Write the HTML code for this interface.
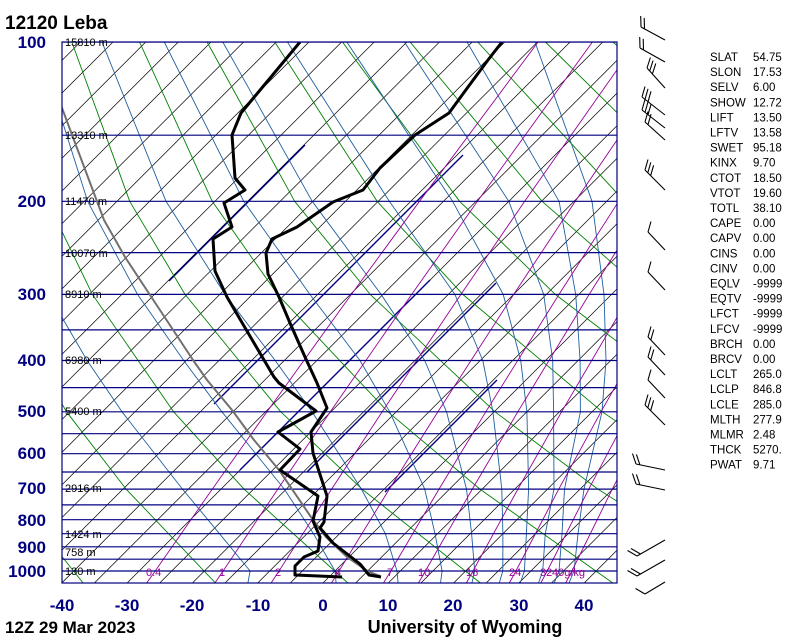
<!DOCTYPE html>
<html><head><meta charset="utf-8">
<style>
html,body{margin:0;padding:0;background:#fff;}
svg{display:block;}
text{font-family:"Liberation Sans",sans-serif;}
</style></head>
<body>
<svg xmlns="http://www.w3.org/2000/svg" width="800" height="640" viewBox="0 0 800 640">
<defs><clipPath id="c"><rect x="62" y="42" width="555" height="541"/></clipPath></defs>
<g clip-path="url(#c)" fill="none">
<!-- isotherms -->
<path stroke="#000" stroke-width="0.7" d="M-460.6 583l541 -541M-428 583l541 -541M-395.3 583l541 -541M-362.7 583l541 -541M-330 583l541 -541M-297.4 583l541 -541M-264.7 583l541 -541M-232.1 583l541 -541M-199.4 583l541 -541M-166.8 583l541 -541M-134.1 583l541 -541M-101.5 583l541 -541M-68.8 583l541 -541M-36.2 583l541 -541M-3.5 583l541 -541M29.1 583l541 -541M61.8 583l541 -541M94.4 583l541 -541M127.1 583l541 -541M159.7 583l541 -541M192.4 583l541 -541M225 583l541 -541M257.7 583l541 -541M290.3 583l541 -541M323 583l541 -541M355.6 583l541 -541M388.3 583l541 -541M420.9 583l541 -541M453.6 583l541 -541M486.2 583l541 -541M518.9 583l541 -541M551.5 583l541 -541M584.2 583l541 -541M616.8 583l541 -541"/>
<!-- navy segments -->
<path stroke="#000080" stroke-width="1.4" d="M305 145L169 281M463 155L214 404M430 280L240 470M496 283L307 472M497 380L385 492"/>
<!-- dry adiabats -->
<path stroke="#008000" stroke-width="0.9" stroke-linejoin="round" d="M83.1 583L8.1 489.1M215.5 583L126.1 489.1L66.5 411.8L-0.2 294.4M347.9 583L244 489.1L173.6 411.8L92.4 294.4L47.3 201.3L4.2 42M480.4 583L362 489.1L280.8 411.8L185 294.4L129.7 201.3L71.8 42M612.8 583L479.9 489.1L387.9 411.8L277.6 294.4L212.2 201.3L139.5 42M745.2 583L597.9 489.1L495 411.8L370.2 294.4L294.7 201.3L207.1 42M877.6 583L715.8 489.1L602.2 411.8L462.8 294.4L377.1 201.3L274.8 42M1010 583L833.8 489.1L709.3 411.8L555.3 294.4L459.6 201.3L342.4 42M1142.5 583L951.7 489.1L816.5 411.8L647.9 294.4L542.1 201.3L410.1 42M1069.7 489.1L923.6 411.8L740.5 294.4L624.5 201.3L477.7 42M1030.8 411.8L833.1 294.4L707 201.3L545.4 42M925.7 294.4L789.4 201.3L613 42"/>
<!-- moist adiabats -->
<path stroke="#1f5fa0" stroke-width="0.9" stroke-linejoin="round" d="M247.9 583L250.1 571L219.5 533.7L182.5 489.1L122 411.8L87.1 360.5L48.6 294.4M336.1 583L335 571L313.5 533.7L284.3 489.1L221.9 411.8L183.7 360.5L137.5 294.4L87.6 201.3L37.3 42M398.1 583L397 571L385.4 533.7L361.4 489.1L312 411.8L275.2 360.5L225 294.4L166 201.3L102 42M440.5 583L442.1 571L435 533.7L424.7 489.1L389.7 411.8L360 360.5L309.9 294.4L243.7 201.3L164.3 42M471.9 583L474.7 571L471.6 533.7L466.5 489.1L446.5 411.8L424.7 360.5L381.1 294.4L312.2 201.3L222.8 42M499.3 583L502.8 571L502.9 533.7L501.8 489.1L492.9 411.8L482.8 360.5L454.9 294.4L389.3 201.3L287.4 42M520.2 583L524.4 571L526.4 533.7L528.6 489.1L526.9 411.8L520.7 360.5L503.2 294.4L452.6 201.3L346.8 42M538.5 583L542.7 571L545.3 533.7L554 489.1L553.6 411.8L552.7 360.5L543.7 294.4L508.8 201.3L404.4 42M554.2 583L559 571L562 533.7L564.5 489.1L580.4 411.8L580.1 360.5L575.7 294.4L559.1 201.3L467 42M569 583L574 571L578 533.7L584 489.1L602 411.8L606 360.5L604 294.4L592 201.3L535 42"/>
<!-- mixing ratio -->
<path stroke="#990099" stroke-width="0.9" stroke-linejoin="round" d="M146.7 583L155.2 571L212.3 489.1L267 411.8L351.4 294.4L419.5 201.3L538.1 42M214.9 583L223.1 571L277.8 489.1L330.3 411.8L411.7 294.4L477.5 201.3L592.4 42M271.1 583L279 571L331.6 489.1L382.2 411.8L460.9 294.4L524.7 201.3L636.6 42M331.4 583L339 571L389.3 489.1L437.9 411.8L513.7 294.4L575.3 201.3L683.8 42M383.5 583L390.8 571L439 489.1L485.8 411.8L559 294.4L618.7 201.3M418.4 583L425.4 571L472.3 489.1L517.8 411.8L589.2 294.4L647.6 201.3M466.3 583L473 571L517.9 489.1L561.6 411.8L630.5 294.4M509.3 583L515.9 571L558.8 489.1L601 411.8L667.6 294.4M540.8 583L547.2 571L588.8 489.1L629.6 411.8M565.7 583L571.9 571L612.3 489.1L652.3 411.8"/>
<!-- isobars -->
<path stroke="#000080" stroke-width="1.2" d="M62 42H617M62 135.2H617M62 201.3H617M62 252.6H617M62 294.4H617M62 329.9H617M62 360.5H617M62 387.6H617M62 411.8H617M62 433.7H617M62 453.7H617M62 472H617M62 489.1H617M62 504.9H617M62 519.7H617M62 533.7H617M62 546.8H617M62 559.2H617M62 571H617"/>
<!-- soundings -->
<polyline stroke="#707070" stroke-width="2" stroke-linejoin="round" points="60,103 62,108 104,220 125,257 150,295 193,360 207,380 232,410 254,440 279,470 311,517 326,537 347,557 369,572 380,576"/>
<polyline stroke="#000" stroke-width="3" stroke-linejoin="round" points="502,42 488,60 468,87 449,113 415,135 380,168 363,190 333,202 297,227 272,239 266,253 268,274 279,297 290,323 305,357 317,383 327,408 311,432 313,453 327,496 324,522 320,528 333,543 360,564 369,575 381,577"/>
<polyline stroke="#000" stroke-width="3" stroke-linejoin="round" points="300,42 241,113 232,135 235,178 245,190 224,203 232,227 213,239 215,271 227,297 274,377 279,383 316,411 278,432 300,449 280,470 318,496 313,521 320,537 318,551 304,557 295,566 295,575 342,577"/>
</g>
<rect x="62" y="42" width="555" height="541" fill="none" stroke="#000080" stroke-width="1.2"/>
<g font-size="11" fill="#990099">
<text x="146" y="576">0.4</text><text x="219" y="576">1</text><text x="275" y="576">2</text>
<text x="335" y="576">4</text><text x="387" y="576">7</text><text x="418" y="576">10</text>
<text x="466" y="576">16</text><text x="509" y="576">24</text><text x="540" y="576">32</text>
<text x="552" y="576">40g/kg</text>
</g>
<!-- wind barbs -->
<path stroke="#000" stroke-width="1.1" fill="none" d="
M665 40L641 27M641 27l-0.3 -11M644.5 28.9l-0.3 -11
M665 62L640 48M640 48l-0.3 -11M643.5 49.9l-0.3 -11
M665 88L647 68M647 68l3.4 -10.5M649.7 71l3.4 -10.5M652.4 73.9l3.4 -10.5
M665 115L642 97M642 97l3 -10.5M645 99.4l3 -10.5M648 101.8l3 -10.5
M665 128L642 110M642 110l3 -10.5M645 112.4l3 -10.5M648 114.8l3 -10.5
M665 140L645 122M645 122l3 -10.5M648 124.7l3 -10.5
M665 190L645 170M645 170l3 -10.5M647.8 172.9l3 -10.5M650.6 175.8l3 -10.5
M665 250L648 232M648 232l3 -10.5
M665 290L648 272M648 272l3 -10.5
M665 355L648 337M648 337l3 -10.5M650.8 340l3 -10.5
M665 375L648 357M648 357l3 -10.5M650.8 360l3 -10.5
M665 398L648 380M648 380l3 -10.5
M665 425L645 405M645 405l3 -10.5M647.8 407.9l3 -10.5M650.6 410.8l3 -10.5
M665 470L636 464M636 464l-3.5 -10.4M639.9 464.8l-3.5 -10.4
M665 490L636 484M636 484l-3.5 -10.4M639.9 484.8l-3.5 -10.4
M665 540L637 556M637 556l-9.5 -5.5M640.5 554l-9.5 -5.5
M665 560L637 576M637 576l-9.5 -5.5M640.5 574l-9.5 -5.5
M665 582L645 594M645 594l-9.5 -5.5"/>
<text x="5" y="29" font-size="19" font-weight="bold">12120  Leba</text>
<g font-size="17" font-weight="bold" fill="#000080" text-anchor="end">
<text x="46" y="48">100</text><text x="46" y="207">200</text><text x="46" y="300">300</text>
<text x="46" y="366">400</text><text x="46" y="417">500</text><text x="46" y="459">600</text>
<text x="46" y="494">700</text><text x="46" y="526">800</text><text x="46" y="553">900</text>
<text x="46" y="577">1000</text>
</g>
<g font-size="17" font-weight="bold" fill="#000080" text-anchor="middle">
<text x="62" y="611">-40</text><text x="127" y="611">-30</text><text x="192" y="611">-20</text>
<text x="258" y="611">-10</text><text x="323" y="611">0</text><text x="388" y="611">10</text>
<text x="453" y="611">20</text><text x="519" y="611">30</text><text x="584" y="611">40</text>
</g>
<text x="5" y="633" font-size="17" font-weight="bold">12Z 29 Mar 2023</text>
<text x="465" y="633" font-size="18" font-weight="bold" text-anchor="middle">University of Wyoming</text>
<g font-size="11" fill="#000">
<text x="65" y="46">15810 m</text><text x="65" y="139">13310 m</text><text x="65" y="205">11470 m</text>
<text x="65" y="257">10070 m</text><text x="65" y="298">8910 m</text><text x="65" y="364">6980 m</text>
<text x="65" y="415">5400 m</text><text x="65" y="492">2916 m</text><text x="65" y="538">1424 m</text>
<text x="65" y="556">758 m</text><text x="65" y="575">130 m</text>
</g>
<g font-size="11.5" fill="#000">
<text x="710" y="61">SLAT</text><text x="753" y="61">54.75</text>
<text x="710" y="76.1">SLON</text><text x="753" y="76.1">17.53</text>
<text x="710" y="91.2">SELV</text><text x="753" y="91.2">6.00</text>
<text x="710" y="106.3">SHOW</text><text x="753" y="106.3">12.72</text>
<text x="710" y="121.4">LIFT</text><text x="753" y="121.4">13.50</text>
<text x="710" y="136.5">LFTV</text><text x="753" y="136.5">13.58</text>
<text x="710" y="151.6">SWET</text><text x="753" y="151.6">95.18</text>
<text x="710" y="166.7">KINX</text><text x="753" y="166.7">9.70</text>
<text x="710" y="181.8">CTOT</text><text x="753" y="181.8">18.50</text>
<text x="710" y="196.9">VTOT</text><text x="753" y="196.9">19.60</text>
<text x="710" y="212">TOTL</text><text x="753" y="212">38.10</text>
<text x="710" y="227.1">CAPE</text><text x="753" y="227.1">0.00</text>
<text x="710" y="242.2">CAPV</text><text x="753" y="242.2">0.00</text>
<text x="710" y="257.3">CINS</text><text x="753" y="257.3">0.00</text>
<text x="710" y="272.4">CINV</text><text x="753" y="272.4">0.00</text>
<text x="710" y="287.5">EQLV</text><text x="753" y="287.5">-9999</text>
<text x="710" y="302.6">EQTV</text><text x="753" y="302.6">-9999</text>
<text x="710" y="317.7">LFCT</text><text x="753" y="317.7">-9999</text>
<text x="710" y="332.8">LFCV</text><text x="753" y="332.8">-9999</text>
<text x="710" y="347.9">BRCH</text><text x="753" y="347.9">0.00</text>
<text x="710" y="363">BRCV</text><text x="753" y="363">0.00</text>
<text x="710" y="378.1">LCLT</text><text x="753" y="378.1">265.0</text>
<text x="710" y="393.2">LCLP</text><text x="753" y="393.2">846.8</text>
<text x="710" y="408.3">LCLE</text><text x="753" y="408.3">285.0</text>
<text x="710" y="423.4">MLTH</text><text x="753" y="423.4">277.9</text>
<text x="710" y="438.5">MLMR</text><text x="753" y="438.5">2.48</text>
<text x="710" y="453.6">THCK</text><text x="753" y="453.6">5270.</text>
<text x="710" y="468.7">PWAT</text><text x="753" y="468.7">9.71</text>
</g>
</svg>
</body></html>
